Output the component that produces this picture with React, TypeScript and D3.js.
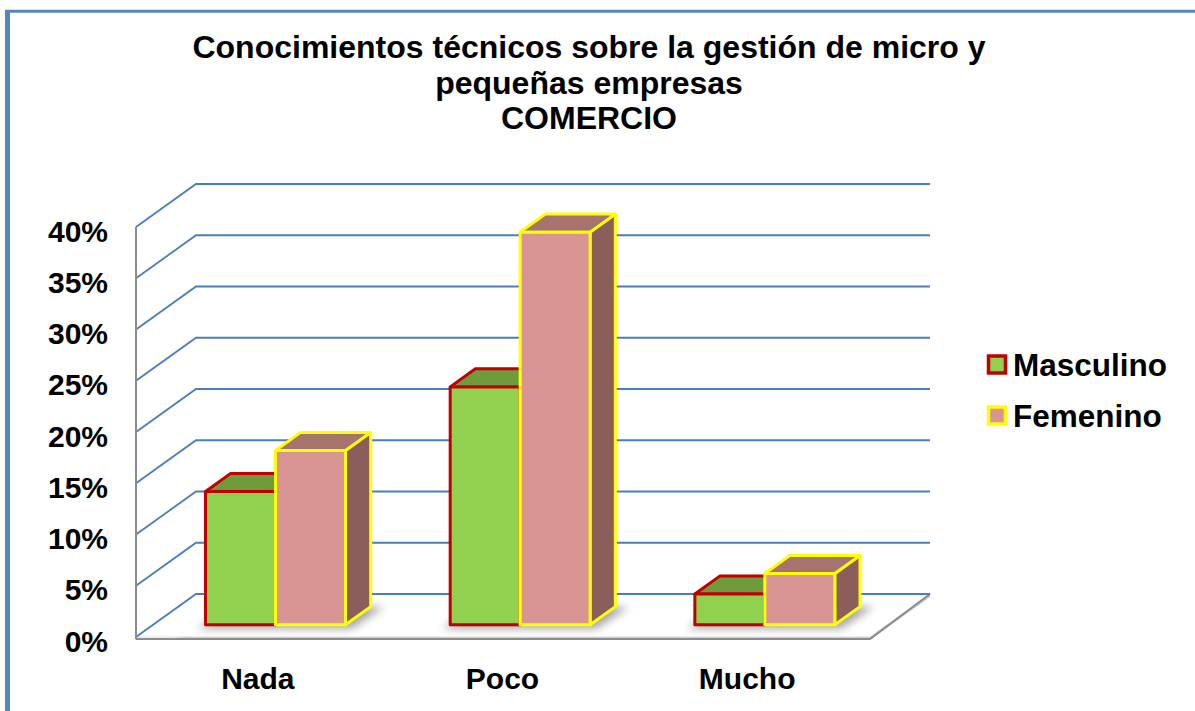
import * as d3 from 'd3';
import { useEffect, useRef } from 'react';

const categories = ['Nada', 'Poco', 'Mucho'];
const seriesNames = ['Masculino', 'Femenino'];
const masculino = [13, 23.2, 3];
const femenino = [17, 38.3, 5];
const yTicks = [0, 5, 10, 15, 20, 25, 30, 35, 40];
const titleLines = ['Conocimientos técnicos sobre la gestión de micro y', 'pequeñas empresas', 'COMERCIO'];

const colors = [
  { front: '#92d050', top: '#6f9b3d', side: '#5c8232', stroke: '#c00000' },
  { front: '#d99594', top: '#a6736f', side: '#8b5e5c', stroke: '#ffff00' },
];

const FONT = '"Liberation Sans", Arial, sans-serif';

export default function App() {
  const ref = useRef<SVGSVGElement>(null);
  const width = 1195;
  const height = 711;

  useEffect(() => {
    if (!ref.current) return;
    const svg = d3.select(ref.current);
    svg.selectAll('*').remove();

    // geometria del piso 3D
    const x0 = 136;
    const y0 = 637;
    const dx = 60;
    const dy = -43;
    const W = 734;
    const f0 = 0.286;
    const f1 = 0.706;

    const h = d3.scaleLinear().domain([0, 40]).range([0, 410]);
    const outer = d3.scaleBand<string>().domain(categories).range([0, W]).paddingInner(0.428).paddingOuter(0.214);
    const inner = d3.scaleBand<string>().domain(seriesNames).range([0, outer.bandwidth()]);

    const defs = svg.append('defs');
    defs.append('filter').attr('id', 'shadow').attr('x', '-30%').attr('y', '-30%').attr('width', '160%').attr('height', '160%')
      .append('feGaussianBlur').attr('stdDeviation', 4);

    // marco
    svg.append('line').attr('x1', 7.5).attr('y1', 10).attr('x2', 7.5).attr('y2', height)
      .attr('stroke', '#5584c1').attr('stroke-width', 5);
    svg.append('line').attr('x1', 5).attr('y1', 11.3).attr('x2', width).attr('y2', 11.3)
      .attr('stroke', '#5584c1').attr('stroke-width', 3);

    // titulo
    svg.append('text')
      .attr('x', 589).attr('y', 58)
      .attr('text-anchor', 'middle')
      .attr('font-family', FONT).attr('font-weight', 'bold').attr('font-size', 32)
      .selectAll('tspan').data(titleLines).join('tspan')
      .attr('x', 589).attr('dy', (_, i) => (i === 0 ? 0 : 35.5))
      .text(d => d);

    // piso
    svg.append('path')
      .attr('d', `M${x0},${y0 + 3}L${x0 + W},${y0 + 3}L${x0 + W + dx},${y0 + dy + 3}L${x0 + W + dx},${y0 + dy}Z`)
      .attr('fill', '#c8c8c8');
    svg.append('path')
      .attr('d', `M${x0},${y0}L${x0 + dx},${y0 + dy}L${x0 + W + dx},${y0 + dy}L${x0 + W},${y0}Z`)
      .attr('fill', '#ffffff').attr('stroke', '#d9d9d9').attr('stroke-width', 1);
    svg.append('path')
      .attr('d', `M${x0},${y0 + 2}L${x0 + W},${y0 + 2}L${x0 + W + dx},${y0 + dy}`)
      .attr('fill', 'none').attr('stroke', '#8c8c8c').attr('stroke-width', 2);

    // lineas de cuadricula
    yTicks.forEach(v => {
      const yf = y0 - h(v);
      const yb = y0 + dy - h(v);
      svg.append('path')
        .attr('d', `M${x0},${yf}L${x0 + dx},${yb}L${x0 + dx + W},${yb}`)
        .attr('fill', 'none').attr('stroke', '#4a7ebb').attr('stroke-width', 1.8);
    });

    // eje vertical
    svg.append('line').attr('x1', x0).attr('y1', y0 - h(40)).attr('x2', x0).attr('y2', y0 + 2)
      .attr('stroke', '#8c8c8c').attr('stroke-width', 2);

    // etiquetas eje Y
    svg.append('g').selectAll('text').data(yTicks).join('text')
      .attr('x', 108).attr('y', d => y0 - h(d) + 4)
      .attr('dominant-baseline', 'central').attr('text-anchor', 'end')
      .attr('font-family', FONT).attr('font-weight', 'bold').attr('font-size', 30)
      .text(d => `${d}%`);

    // etiquetas categorias
    svg.append('g').selectAll('text').data(categories).join('text')
      .attr('x', d => x0 + (outer(d) ?? 0) + outer.bandwidth() / 2 - 0.5)
      .attr('y', 689)
      .attr('text-anchor', 'middle')
      .attr('font-family', FONT).attr('font-weight', 'bold').attr('font-size', 30)
      .text(d => d);

    const values = [masculino, femenino];
    const bw = inner.bandwidth();
    const ddx = (f1 - f0) * dx;
    const ddy = (f1 - f0) * dy;

    // sombras
    categories.forEach(c => {
      const xl = x0 + (outer(c) ?? 0) + f0 * dx;
      const yb = y0 + f0 * dy;
      const wAll = outer.bandwidth();
      svg.append('path')
        .attr('d', `M${xl - 8},${yb + 4}L${xl + wAll + 6},${yb + 4}L${xl + wAll + ddx + 14},${yb + ddy}L${xl + ddx},${yb + ddy}Z`)
        .attr('fill', '#000').attr('opacity', 0.35).attr('filter', 'url(#shadow)');
    });

    // barras
    categories.forEach((c, ci) => {
      seriesNames.forEach((s, si) => {
        const v = values[si][ci];
        const xl = x0 + (outer(c) ?? 0) + (inner(s) ?? 0) + f0 * dx;
        const yb = y0 + f0 * dy;
        const yt = yb - h(v);
        const col = colors[si];
        const g = svg.append('g')
          .attr('stroke', col.stroke).attr('stroke-width', 3).attr('stroke-linejoin', 'round');
        g.append('path')
          .attr('d', `M${xl + bw},${yb}L${xl + bw + ddx},${yb + ddy}L${xl + bw + ddx},${yt + ddy}L${xl + bw},${yt}Z`)
          .attr('fill', col.side);
        g.append('path')
          .attr('d', `M${xl},${yt}L${xl + ddx},${yt + ddy}L${xl + bw + ddx},${yt + ddy}L${xl + bw},${yt}Z`)
          .attr('fill', col.top);
        g.append('rect')
          .attr('x', xl).attr('y', yt).attr('width', bw).attr('height', h(v))
          .attr('fill', col.front);
      });
    });

    // leyenda
    const leg = svg.append('g');
    seriesNames.forEach((s, i) => {
      const cy = 364.5 + i * 51;
      leg.append('rect')
        .attr('x', 988.5).attr('y', cy - 8.5).attr('width', 17).attr('height', 17)
        .attr('fill', colors[i].front).attr('stroke', colors[i].stroke).attr('stroke-width', 3.5);
      leg.append('text')
        .attr('x', 1013).attr('y', cy)
        .attr('dominant-baseline', 'central')
        .attr('font-family', FONT).attr('font-weight', 'bold').attr('font-size', 31.5)
        .text(s);
    });
  }, []);

  return (
    <svg ref={ref} width={width} height={height}
      style={{ position: 'absolute', left: 0, top: 0, background: '#fff' }} />
  );
}
